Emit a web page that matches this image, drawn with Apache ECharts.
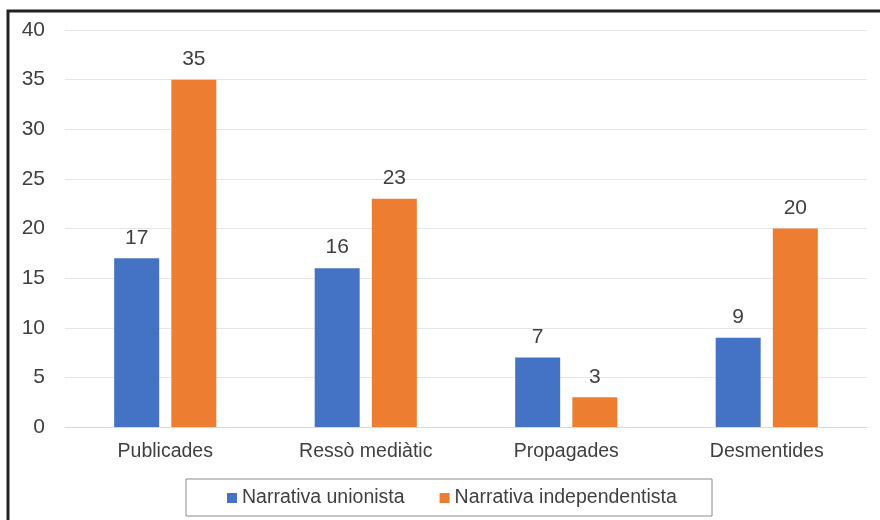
<!DOCTYPE html>
<html>
<head>
<meta charset="utf-8">
<script src="https://cdn.jsdelivr.net/npm/echarts@6/dist/echarts.min.js"></script>
<style>
  html, body { margin: 0; padding: 0; background: #fff; }
  #chart { width: 880px; height: 520px; }
</style>
</head>
<body>
<div id="chart"></div>
<script>
const categories = ["Publicades", "Ressò mediàtic", "Propagades", "Desmentides"];
const unionista = [17, 16, 7, 9];
const independentista = [35, 23, 3, 20];
const seriesNames = ["Narrativa unionista", "Narrativa independentista"];

const font = "'Liberation Sans', Arial, sans-serif";
const chart = echarts.init(document.getElementById("chart"));

const option = {
  animation: false,
  textStyle: { fontFamily: font },
  graphic: [
    {
      type: "rect",
      shape: { x: 8, y: 11, width: 900, height: 600 },
      style: { fill: "none", stroke: "#222", lineWidth: 3 },
      z: 100,
    },
    {
      type: "rect",
      shape: { x: 186, y: 479, width: 526, height: 37 },
      style: { fill: "#fff", stroke: "#8c8c8c", lineWidth: 1 },
      z: 0,
    },
  ],
  legend: {
    data: seriesNames,
    top: 483,
    left: 222,
    itemWidth: 10,
    itemHeight: 10,
    itemGap: 35,
    icon: "rect",
    textStyle: { fontSize: 19.5, color: "#404040", fontFamily: font },
  },
  grid: { left: 65, right: 13, top: 30, bottom: 93 },
  xAxis: {
    type: "category",
    data: categories,
    axisTick: { show: false },
    axisLine: { lineStyle: { color: "#d9d9d9" } },
    axisLabel: { fontSize: 19.5, color: "#404040", margin: 15 },
  },
  yAxis: {
    type: "value",
    min: 0,
    max: 40,
    interval: 5,
    axisLabel: { fontSize: 21, color: "#404040", margin: 20 },
    splitLine: { lineStyle: { color: "#e6e6e6" } },
  },
  series: [
    {
      name: seriesNames[0],
      type: "bar",
      data: unionista,
      barWidth: 45,
      barGap: "27%",
      itemStyle: { color: "#4472c4" },
      label: { show: true, position: "top", distance: 10, fontSize: 21, color: "#404040" },
    },
    {
      name: seriesNames[1],
      type: "bar",
      data: independentista,
      barWidth: 45,
      itemStyle: { color: "#ed7d31" },
      label: { show: true, position: "top", distance: 10, fontSize: 21, color: "#404040" },
    },
  ],
};

chart.setOption(option);
</script>
</body>
</html>
